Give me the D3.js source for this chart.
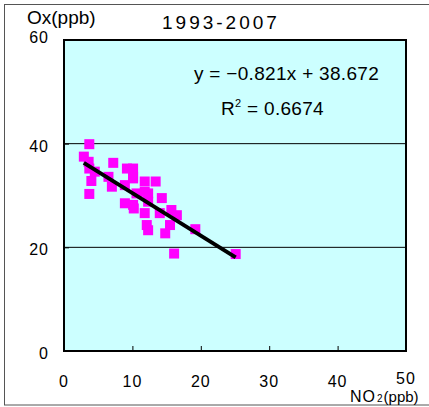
<!DOCTYPE html>
<html>
<head>
<meta charset="utf-8">
<script src="https://cdn.jsdelivr.net/npm/d3@7"></script>
<style>
  body { margin: 0; background: #fff; }
  text { font-family: "Liberation Sans", Arial, sans-serif; fill: #000; }
</style>
</head>
<body>
<svg id="chart" width="429" height="407"></svg>
<script>
// NO2 (ppb) vs Ox (ppb)
const no2 = [2.9, 3.7, 3.6, 3.7, 4.5, 4.0, 3.7, 7.2, 6.5, 7.0, 9.2, 10.1, 10.1, 8.9, 8.9,
  10.2, 10.6, 11.8, 13.4, 11.8, 12.3, 12.3, 10.1, 11.8, 14.3, 14.0, 15.7, 16.5, 12.1,
  12.3, 15.5, 14.8, 19.2, 16.1, 25.1, 10.1];
const ox = [37.5, 39.9, 36.5, 35.2, 34.6, 32.8, 30.3, 36.3, 33.6, 31.7, 35.2, 35.2, 33.3, 32.0, 28.5,
  27.5, 30.4, 32.7, 32.7, 30.7, 30.4, 28.8, 28.2, 26.6, 29.5, 26.6, 27.2, 26.2, 24.3,
  23.3, 24.3, 22.7, 23.5, 18.8, 18.7, 33.6];
const xTicks = [0, 10, 20, 30, 40, 50];
const yTicks = [0, 20, 40, 60];
const slope = -0.821, intercept = 38.672, r2 = 0.6674;

const svg = d3.select("#chart");
const margin = { left: 64, right: 23, top: 40, bottom: 56 };
const width = 429 - margin.left - margin.right;
const height = 407 - margin.top - margin.bottom;

// outer frame
svg.append("rect")
  .attr("x", 4.5).attr("y", 4.5)
  .attr("width", 430).attr("height", 400.5)
  .attr("fill", "none").attr("stroke", "#555").attr("stroke-width", 1);

const g = svg.append("g").attr("transform", `translate(${margin.left},${margin.top})`);

const xScale = d3.scaleLinear().domain([0, 50]).range([0, width]);
const yScale = d3.scaleLinear().domain([0, 60]).range([height, 0]);

g.append("rect")
  .attr("width", width).attr("height", height)
  .attr("fill", "#ccffff");

// gridlines
g.selectAll(".grid")
  .data(yTicks.filter(d => d > 0 && d < 60))
  .enter().append("line")
  .attr("x1", 0).attr("x2", width)
  .attr("y1", d => yScale(d)).attr("y2", d => yScale(d))
  .attr("stroke", "#000").attr("stroke-width", 1);

// axes with inward ticks
const xAxis = d3.axisTop(xScale).tickValues(xTicks).tickSize(5).tickFormat("");
g.append("g").attr("transform", `translate(0,${height})`).call(xAxis)
  .call(a => a.select(".domain").remove());
const yAxis = d3.axisRight(yScale).tickValues(yTicks).tickSize(5).tickFormat("");
g.append("g").call(yAxis).call(a => a.select(".domain").remove());

// tick labels
g.selectAll(".xl")
  .data(xTicks)
  .enter().append("text")
  .attr("x", d => xScale(d))
  .attr("y", d => height + (d === 50 ? 33 : 36))
  .attr("text-anchor", "middle")
  .attr("font-size", 16)
  .attr("letter-spacing", 1)
  .text(d => d);

g.selectAll(".yl")
  .data(yTicks)
  .enter().append("text")
  .attr("x", -15)
  .attr("y", d => yScale(d) + (d === 60 ? 3 : 8))
  .attr("text-anchor", "end")
  .attr("font-size", 16)
  .attr("letter-spacing", 1)
  .text(d => d);

// points
g.selectAll(".pt")
  .data(no2.map((d, i) => [d, ox[i]]))
  .enter().append("rect")
  .attr("x", d => xScale(d[0]) - 5)
  .attr("y", d => yScale(d[1]) - 5)
  .attr("width", 10).attr("height", 10)
  .attr("fill", "#ff00ff");

// regression line
const xr = d3.extent(no2);
g.append("line")
  .attr("x1", xScale(xr[0])).attr("y1", yScale(slope * xr[0] + intercept))
  .attr("x2", xScale(xr[1])).attr("y2", yScale(slope * xr[1] + intercept))
  .attr("stroke", "#000").attr("stroke-width", 4);

// plot border
g.append("rect")
  .attr("width", width).attr("height", height)
  .attr("fill", "none").attr("stroke", "#000").attr("stroke-width", 2);

// equation
g.append("text")
  .attr("x", 222.5).attr("y", 40)
  .attr("text-anchor", "middle")
  .attr("font-size", 19)
  .attr("letter-spacing", 0.3)
  .text(`y = \u2212${Math.abs(slope)}x + ${intercept}`);
const r2t = g.append("text")
  .attr("x", 208.5).attr("y", 75)
  .attr("text-anchor", "middle")
  .attr("font-size", 19)
  .attr("letter-spacing", 0.3);
r2t.append("tspan").text("R");
r2t.append("tspan").attr("font-size", 11).attr("dy", -8).text("2");
r2t.append("tspan").attr("dy", 8).text(` = ${r2}`);

// titles
svg.append("text")
  .attr("x", 27).attr("y", 24)
  .attr("font-size", 19)
  .text("Ox(ppb)");
svg.append("text")
  .attr("x", 162).attr("y", 29)
  .attr("font-size", 19)
  .attr("letter-spacing", 3)
  .text("1993-2007");

const xt = svg.append("text")
  .attr("x", 350).attr("y", 402)
  .attr("font-size", 16);
xt.append("tspan").attr("letter-spacing", 1).text("NO");
xt.append("tspan").attr("font-size", 10).attr("dx", 1).text("2");
xt.append("tspan").attr("font-size", 15).attr("dx", 1).text("(ppb)");
</script>
</body>
</html>
